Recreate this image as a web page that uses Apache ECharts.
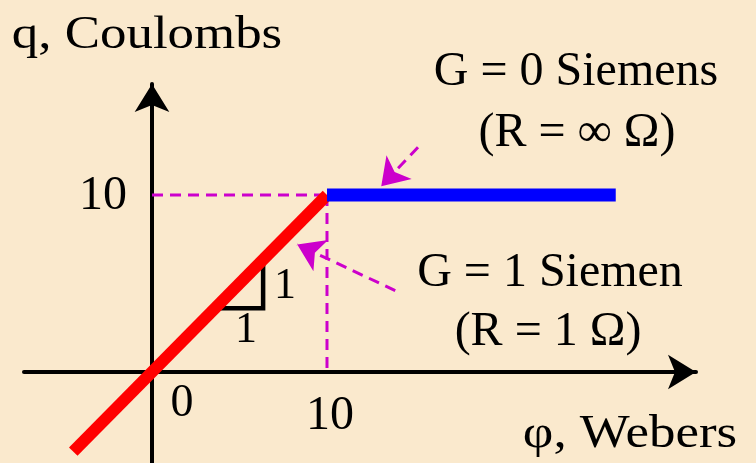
<!DOCTYPE html>
<html>
<head>
<meta charset="utf-8">
<script src="https://cdn.jsdelivr.net/npm/echarts@6/dist/echarts.min.js"></script>
<style>
  html, body { margin: 0; padding: 0; background: #FAE9CD; }
  #chart { width: 756px; height: 463px; }
</style>
</head>
<body>
<div id="chart"></div>
<script>
// q = G * phi, with G = 1 up to phi = 10, then G = 0
const resistorLine = [[-4.5, -4.5], [10, 10]];
const openLine = [[10, 10], [26.5, 10]];
const guideH = [[0, 10], [10, 10]];
const guideV = [[10, 10], [10, 0]];
const slopeMark = [[3.6, 3.6], [6.35, 3.6], [6.35, 6.4]];
const arrowOpen = [[15.2, 12.7], [13.1, 10.5]];
const arrowResistor = [[13.9, 4.6], [8.3, 7.2]];
const xTicks = [10];
const yTicks = [10];

const serif = 'Liberation Serif';
const magenta = '#CC00CC';

function label(text, x, y, size, sx) {
  return {
    type: 'text', x: x, y: y, scaleX: sx || 1,
    style: {
      text: text, x: 0, y: 0, textAlign: 'center', textVerticalAlign: 'middle',
      font: size + 'px "Liberation Serif"', fill: '#000'
    }
  };
}

function tickSeries(points, offset) {
  return {
    type: 'scatter', symbolSize: 0, z: 7, silent: true,
    data: points,
    itemStyle: { opacity: 1 },
    label: {
      show: true, position: 'inside', offset: offset,
      formatter: p => String(p.value[2]),
      color: '#000', opacity: 1, textBorderWidth: 0,
      fontFamily: serif, fontSize: 48
    }
  };
}

const chart = echarts.init(document.getElementById('chart'));
chart.setOption({
  backgroundColor: '#FAE9CD',
  animation: false,
  grid: { left: 24, top: 84, right: 60, bottom: 0, containLabel: false, outerBoundsMode: 'none' },
  xAxis: {
    type: 'value',
    min: -7.314,
    max: 31.086,
    splitLine: { show: false },
    axisTick: { show: false },
    axisLabel: { show: false },
    axisLine: {
      onZero: true,
      symbol: ['none', 'arrow'],
      symbolSize: [26, 28],
      lineStyle: { color: '#000', width: 4 }
    }
  },
  yAxis: {
    type: 'value',
    min: -5.141,
    max: 16.27,
    splitLine: { show: false },
    axisTick: { show: false },
    axisLabel: { show: false },
    axisLine: {
      onZero: true,
      symbol: ['none', 'arrow'],
      symbolSize: [26, 28],
      lineStyle: { color: '#000', width: 4 }
    }
  },
  graphic: [
    label('q, Coulombs', 147, 36, 46, 1.15),
    label('G = 0 Siemens', 576, 72, 48),
    label('(R = ∞ Ω)', 577, 133, 48),
    label('G = 1 Siemen', 550, 273, 48),
    label('(R = 1 Ω)', 548, 332, 48),
    label('φ, Webers', 630, 435, 46, 1.15),
    label('0', 182, 404, 46),
    label('1', 285, 286, 44),
    label('1', 246, 330, 44)
  ],
  series: [
    {
      type: 'line', data: guideH, symbol: 'none', z: 2,
      lineStyle: { color: magenta, width: 3, type: [11, 7] }
    },
    {
      type: 'line', data: guideV, symbol: 'none', z: 2,
      lineStyle: { color: magenta, width: 3, type: [11, 7] }
    },
    {
      type: 'line', data: slopeMark, symbol: 'none', z: 3,
      lineStyle: { color: '#000', width: 4.5, join: 'miter' }
    },
    {
      type: 'line', data: resistorLine, symbol: 'none', z: 4,
      lineStyle: { color: '#FF0000', width: 12 }
    },
    {
      type: 'line', data: openLine, symbol: 'none', z: 5,
      lineStyle: { color: '#0000FF', width: 13 }
    },
    {
      type: 'lines', coordinateSystem: 'cartesian2d', z: 6,
      symbol: ['none', 'arrow'], symbolSize: 26,
      lineStyle: { color: magenta, width: 3, type: [11, 7], opacity: 1 },
      data: [{ coords: arrowOpen }, { coords: arrowResistor }]
    },
    tickSeries(xTicks.map(v => [v, 0, v]), [3, 44]),
    tickSeries(yTicks.map(v => [0, v, v]), [-49, 1])
  ]
});
</script>
</body>
</html>
